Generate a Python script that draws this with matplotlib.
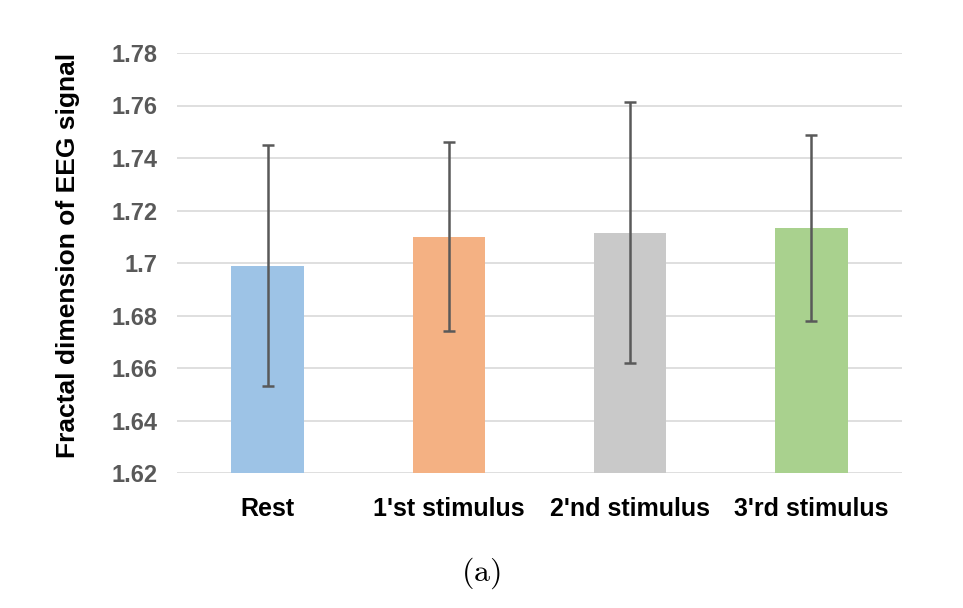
import matplotlib
matplotlib.use("Agg")
import matplotlib.pyplot as plt
from matplotlib.ticker import FuncFormatter

categories = ["Rest", "1'st stimulus", "2'nd stimulus", "3'rd stimulus"]
means = [1.699, 1.710, 1.7115, 1.7133]
errors = [0.046, 0.036, 0.0497, 0.0355]
colors = ["#9dc3e6", "#f4b183", "#c9c9c9", "#a9d18e"]
yticks = [1.62, 1.64, 1.66, 1.68, 1.70, 1.72, 1.74, 1.76, 1.78]

plt.rcParams['font.family'] = ['Liberation Sans', 'DejaVu Sans']
plt.rcParams['mathtext.fontset'] = 'cm'

fig = plt.figure(figsize=(9.63, 6.08), dpi=100)
ax = fig.add_axes([177/963, 1-473/608, (902-177)/963, (473-53)/608])

x = range(len(categories))
ax.bar(x, [m - 1.62 for m in means], bottom=1.62, width=0.4, color=colors, zorder=2)
ax.errorbar(x, means, yerr=errors, fmt='none', ecolor='#595959', elinewidth=1.8,
            capsize=4, capthick=1.8, zorder=3)

ax.set_xlim(-0.5, 3.5)
ax.set_ylim(1.62, 1.78)
ax.set_yticks(yticks)
ax.yaxis.set_major_formatter(FuncFormatter(lambda v, p: f"{v:.2f}".rstrip('0')))
ax.grid(axis='y', color='#d9d9d9', linewidth=1.2, zorder=0)
ax.set_axisbelow(True)
for s in ax.spines.values():
    s.set_visible(False)
ax.tick_params(axis='both', length=0)
ax.tick_params(axis='y', pad=14, labelcolor='#595959', labelsize=17)
ax.tick_params(axis='x', pad=17, labelcolor='black', labelsize=18)
for lbl in ax.get_yticklabels():
    lbl.set_fontweight('bold')
ax.set_xticks(list(x))
ax.set_xticklabels(categories, fontweight='bold')

fig.text(68/963, 1-255/608, "Fractal dimension of EEG signal", rotation=90,
         ha='center', va='center', fontsize=19, fontweight='bold')

fig.text(481/963, 1-573/608, r"$\mathrm{(a)}$", ha='center', va='center', fontsize=23)

fig.savefig("out.png", dpi=100)
